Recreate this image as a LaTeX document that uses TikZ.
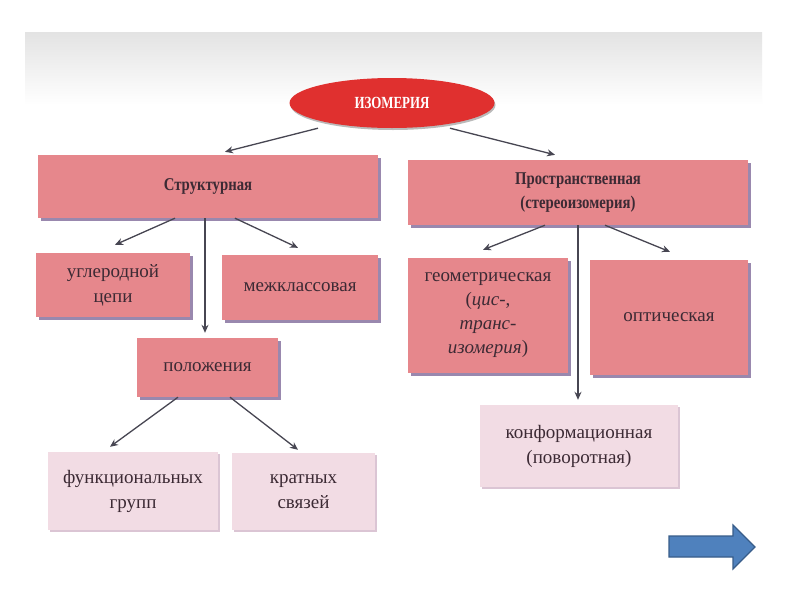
\documentclass[tikz,border=0pt]{standalone}
\usepackage{fontspec}
\setmainfont{Liberation Serif}
\usetikzlibrary{shadows,arrows.meta,shapes.geometric}
\definecolor{boxpink}{HTML}{E6878C}
\definecolor{boxshadow}{HTML}{8E7CA6}
\definecolor{lightpink}{HTML}{F2DCE4}
\definecolor{lightshadow}{HTML}{D8BFD0}
\definecolor{isored}{HTML}{E0302F}
\definecolor{txt}{HTML}{3C2A34}
\definecolor{arrowgray}{HTML}{474652}
\definecolor{bluearrow}{HTML}{4F81BD}
\definecolor{blueedge}{HTML}{385D8A}
\newcommand\condtxt[1]{\scalebox{0.82}[1]{#1}}
\tikzset{
  pinkbox/.style={rectangle, fill=boxpink, text=txt, align=center, inner sep=2pt,
    font=\fontsize{19}{25}\selectfont,
    drop shadow={shadow xshift=3pt, shadow yshift=-3pt, fill=boxshadow, opacity=0.9}},
  lightbox/.style={rectangle, fill=lightpink, text=txt, align=center, inner sep=2pt,
    font=\fontsize{19}{25}\selectfont,
    drop shadow={shadow xshift=2pt, shadow yshift=-2pt, fill=lightshadow, opacity=0.9}},
  headbox/.style={pinkbox, font=\bfseries\fontsize{18}{24}\selectfont},
  conn/.style={draw=arrowgray, line width=1.3pt, -{Stealth[length=8pt,width=7pt]}},
}
\begin{document}
\begin{tikzpicture}[x=1pt,y=-1pt]
\useasboundingbox (0,0) rectangle (800,600);
\fill[white] (0,0) rectangle (800,600);
\shade[top color=black!11, bottom color=white] (25,32) rectangle (762,105);

\node[ellipse, fill=isored, minimum width=205pt, minimum height=50pt, text=white,
  font=\bfseries\fontsize{17}{19}\selectfont,
  drop shadow={shadow xshift=1pt, shadow yshift=-2pt, fill=black!45, opacity=0.6}]
  (iso) at (392,103) {\scalebox{0.76}[1]{ИЗОМЕРИЯ}};

\node[headbox, minimum width=340pt, minimum height=63pt] (str) at (208,186.5) {\condtxt{Структурная}};
\node[headbox, minimum width=340pt, minimum height=65pt] (prs) at (578,192.5) {\condtxt{Пространственная}\\\condtxt{(стереоизомерия)}};

\node[pinkbox, minimum width=154pt, minimum height=64pt] (ugl) at (113,285) {углеродной\\цепи};
\node[pinkbox, minimum width=156pt, minimum height=65pt] (mezh) at (300,287.5) {межклассовая};
\node[pinkbox, minimum width=141pt, minimum height=59pt] (pol) at (207.5,367.5) {положения};
\node[lightbox, minimum width=170pt, minimum height=78pt] (fun) at (133,491) {функциональных\\групп};
\node[lightbox, minimum width=143pt, minimum height=77pt] (krat) at (303.5,491.5) {кратных\\связей};

\node[pinkbox, minimum width=160pt, minimum height=115pt, font=\fontsize{19}{24}\selectfont] (geo) at (488,315.5)
  {геометрическая\\(\textit{цис-},\\\textit{транс-}\\\textit{изомерия})};
\node[pinkbox, minimum width=158pt, minimum height=115pt] (opt) at (669,317.5) {оптическая};
\node[lightbox, minimum width=198pt, minimum height=82pt] (konf) at (579,446) {конформационная\\(поворотная)};

\draw[conn] ([xshift=-74pt]iso.south) -- ([xshift=17pt,yshift=3pt]str.north);
\draw[conn] ([xshift=58pt]iso.south) -- ([xshift=-23pt,yshift=5pt]prs.north);

\draw[conn] ([xshift=-33pt]str.south) -- ([xshift=2pt,yshift=8pt]ugl.north);
\draw[conn] ([xshift=-3pt]str.south) -- ([xshift=-2.5pt,yshift=5pt]pol.north);
\draw[conn] ([xshift=27pt]str.south) -- ([xshift=-2pt,yshift=7pt]mezh.north);

\draw[conn] ([xshift=-29.5pt]pol.south) -- ([xshift=-23pt,yshift=5pt]fun.north);
\draw[conn] ([xshift=22.5pt]pol.south) -- ([xshift=-5.5pt,yshift=3pt]krat.north);

\draw[conn] ([xshift=-33pt]prs.south) -- ([xshift=-5pt,yshift=8pt]geo.north);
\draw[conn] ([xshift=0pt]prs.south) -- ([xshift=-1pt,yshift=5pt]konf.north);
\draw[conn] ([xshift=27pt]prs.south) -- ([xshift=1pt,yshift=8pt]opt.north);

\draw[fill=bluearrow, draw=blueedge, line width=1.2pt, line join=miter]
  (669,536) -- (733,536) -- (733,525) -- (755,547) -- (733,569) -- (733,557) -- (669,557) -- cycle;
\end{tikzpicture}
\end{document}
